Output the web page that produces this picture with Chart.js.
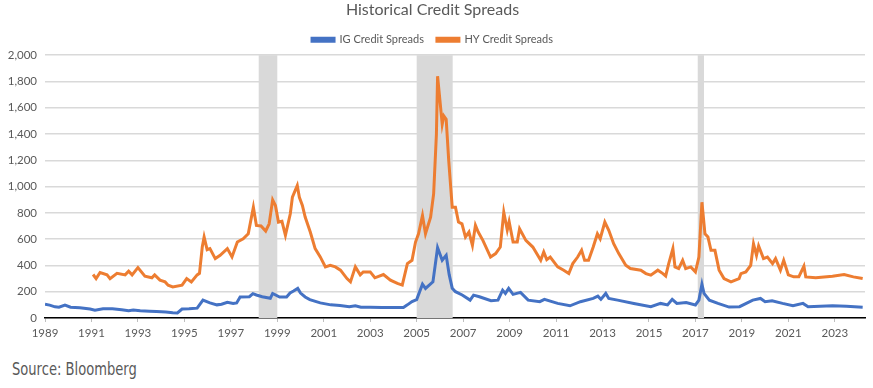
<!DOCTYPE html>
<html>
<head>
<meta charset="utf-8">
<script src="https://cdn.jsdelivr.net/npm/chart.js@4/dist/chart.umd.min.js"></script>
<style>
  html, body { margin: 0; padding: 0; background: #ffffff; }
  #wrap { position: absolute; left: 0; top: 0; width: 873px; height: 345px; }
  #source { position: absolute; left: 12px; top: 359px; font-family: "Liberation Sans Narrow", "DejaVu Sans", sans-serif; font-size: 17px; color: #595959; transform: scaleX(0.77); transform-origin: left top; white-space: nowrap; }
</style>
</head>
<body>
<div id="wrap"><canvas id="c"></canvas></div>
<div id="source">Source: Bloomberg</div>
<script>
const tickYears = [1989,1991,1993,1995,1997,1999,2001,2003,2005,2007,2009,2011,2013,2015,2017,2019,2021,2023];
const recessions = [[1998.2, 1999.0], [2005.0, 2006.55], [2017.1, 2017.37]];

const igYears = [1989.0,1989.2,1989.43,1989.6,1989.86,1990.1,1990.5,1990.94,1991.15,1991.5,1991.9,1992.3,1992.6,1992.8,1993.1,1993.5,1993.8,1994.2,1994.5,1994.7,1994.9,1995.2,1995.55,1995.8,1996.1,1996.4,1996.6,1996.85,1997.1,1997.25,1997.4,1997.8,1997.95,1998.1,1998.35,1998.7,1998.8,1999.1,1999.4,1999.55,1999.7,1999.88,2000.0,2000.2,2000.4,2000.85,2001.3,2001.7,2002.1,2002.36,2002.6,2003.0,2003.5,2004.0,2004.43,2004.6,2004.8,2005.0,2005.25,2005.38,2005.7,2005.9,2006.1,2006.27,2006.4,2006.53,2006.67,2006.96,2007.3,2007.45,2007.7,2008.2,2008.5,2008.7,2008.82,2008.96,2009.15,2009.47,2009.8,2010.3,2010.5,2011.07,2011.6,2012.05,2012.6,2012.8,2012.93,2013.14,2013.27,2013.65,2014.35,2015.08,2015.5,2015.8,2016.0,2016.2,2016.6,2017.0,2017.15,2017.28,2017.37,2017.6,2017.97,2018.45,2018.9,2019.47,2019.8,2020.0,2020.3,2020.75,2021.2,2021.63,2021.85,2022.9,2023.5,2024.2];
const igValues = [105,98,85,82,98,82,78,68,60,70,70,62,55,60,55,52,50,45,40,38,68,70,75,136,115,100,105,120,110,115,160,162,185,175,162,150,187,160,160,190,205,225,190,160,140,115,100,95,85,93,82,82,80,80,80,100,125,140,257,225,275,535,440,477,330,227,200,175,136,174,162,131,136,212,187,225,180,195,136,124,142,111,93,124,149,166,142,187,149,136,111,86,111,100,142,111,117,99,136,257,187,136,111,83,86,136,149,124,131,111,93,111,86,93,90,82];

const hyYears = [1991.07,1991.2,1991.37,1991.67,1991.8,1992.1,1992.45,1992.6,1992.75,1993.0,1993.3,1993.6,1993.72,1993.95,1994.17,1994.3,1994.5,1994.9,1995.1,1995.3,1995.55,1995.65,1995.77,1995.85,1995.98,1996.1,1996.33,1996.54,1996.85,1997.05,1997.28,1997.53,1997.75,1997.97,1998.1,1998.3,1998.5,1998.65,1998.8,1998.92,1999.05,1999.2,1999.35,1999.56,1999.65,1999.86,1999.95,2000.08,2000.2,2000.42,2000.63,2000.85,2001.07,2001.28,2001.5,2001.72,2002.0,2002.15,2002.36,2002.57,2002.7,2003.0,2003.2,2003.57,2003.87,2004.17,2004.38,2004.6,2004.8,2004.95,2005.08,2005.25,2005.38,2005.6,2005.73,2005.85,2005.9,2006.1,2006.17,2006.27,2006.38,2006.53,2006.67,2006.8,2006.95,2007.1,2007.25,2007.4,2007.53,2007.65,2007.85,2008.18,2008.4,2008.6,2008.75,2008.9,2008.98,2009.15,2009.33,2009.43,2009.7,2010.0,2010.34,2010.47,2010.6,2010.75,2011.07,2011.33,2011.55,2011.72,2011.93,2012.1,2012.23,2012.4,2012.6,2012.78,2012.9,2013.1,2013.27,2013.48,2013.7,2014.0,2014.2,2014.65,2014.87,2015.08,2015.38,2015.6,2015.72,2015.85,2016.03,2016.12,2016.28,2016.45,2016.58,2016.8,2017.0,2017.15,2017.28,2017.41,2017.54,2017.67,2017.84,2018.02,2018.23,2018.53,2018.88,2018.96,2019.17,2019.38,2019.5,2019.63,2019.72,2019.93,2020.1,2020.32,2020.45,2020.66,2020.8,2021.0,2021.23,2021.45,2021.67,2021.75,2022.18,2022.9,2023.4,2023.8,2024.2];
const hyValues = [331,300,346,328,300,340,328,356,328,384,318,306,328,288,275,250,237,250,300,275,328,340,540,616,520,528,452,477,528,465,578,603,641,843,705,700,662,717,899,856,730,736,629,793,919,1008,919,856,768,654,528,465,389,401,389,364,300,275,389,328,351,351,306,331,288,263,250,414,439,578,641,780,641,768,944,1400,1840,1475,1538,1513,1197,843,843,730,717,616,654,553,705,654,591,464,490,540,805,670,733,578,578,679,591,540,439,503,444,464,389,364,338,414,464,515,439,439,540,641,603,730,667,565,490,401,376,364,338,326,364,338,320,414,528,389,376,439,376,389,351,464,881,641,616,515,515,364,300,275,300,338,351,401,565,477,548,452,464,414,452,364,439,328,313,313,394,313,306,318,331,313,300];

const igData = igYears.map((x, i) => ({ x: x, y: igValues[i] }));
const hyData = hyYears.map((x, i) => ({ x: x, y: hyValues[i] }));

const recessionPlugin = {
  id: 'recessions',
  beforeDatasetsDraw(chart) {
    const { ctx, chartArea, scales } = chart;
    ctx.save();
    ctx.fillStyle = '#d9d9d9';
    recessions.forEach(([a, b]) => {
      const x1 = scales.x.getPixelForValue(a);
      const x2 = scales.x.getPixelForValue(b);
      ctx.fillRect(x1, chartArea.top, x2 - x1, chartArea.bottom - chartArea.top);
    });
    ctx.restore();
  }
};

const FONT = '"Lato", "Open Sans", sans-serif';

new Chart(document.getElementById('c'), {
  type: 'line',
  data: {
    datasets: [
      { label: 'IG Credit Spreads', data: igData, borderColor: '#4472C4', backgroundColor: '#4472C4', borderWidth: 3, pointRadius: 0, tension: 0 },
      { label: 'HY Credit Spreads', data: hyData, borderColor: '#ED7D31', backgroundColor: '#ED7D31', borderWidth: 3, pointRadius: 0, tension: 0 }
    ]
  },
  options: {
    responsive: true,
    maintainAspectRatio: false,
    animation: false,
    layout: { padding: { left: 0, right: 8, top: 0, bottom: 0 } },
    plugins: {
      title: { display: true, text: 'Historical Credit Spreads', color: '#595959', font: { family: FONT, size: 16, weight: 'normal' }, padding: { top: 0, bottom: 2 } },
      legend: { display: true, labels: { color: '#595959', font: { family: FONT, size: 11 }, boxWidth: 22, boxHeight: 3, padding: 13 } },
      tooltip: { enabled: false }
    },
    scales: {
      x: {
        type: 'linear', min: 1989, max: 2024.3,
        afterBuildTicks: (s) => { s.ticks = tickYears.map(v => ({ value: v })); },
        afterFit: (s) => { s.height = 27; },
        ticks: { color: '#595959', font: { family: FONT, size: 11.5 }, callback: (v) => String(v), maxRotation: 0, autoSkip: false, padding: 4 },
        grid: { drawOnChartArea: false, drawTicks: true, tickLength: 4, color: '#bfbfbf' },
        border: { display: true, color: '#000000', width: 1.5 }
      },
      y: {
        min: 0, max: 2000,
        afterFit: (s) => { s.width = 45; },
        ticks: { stepSize: 200, color: '#595959', font: { family: FONT, size: 11.5 }, padding: 8 },
        grid: { color: '#d9d9d9', lineWidth: 1.5, drawTicks: false },
        border: { display: false }
      }
    }
  },
  plugins: [recessionPlugin]
});
</script>
</body>
</html>
